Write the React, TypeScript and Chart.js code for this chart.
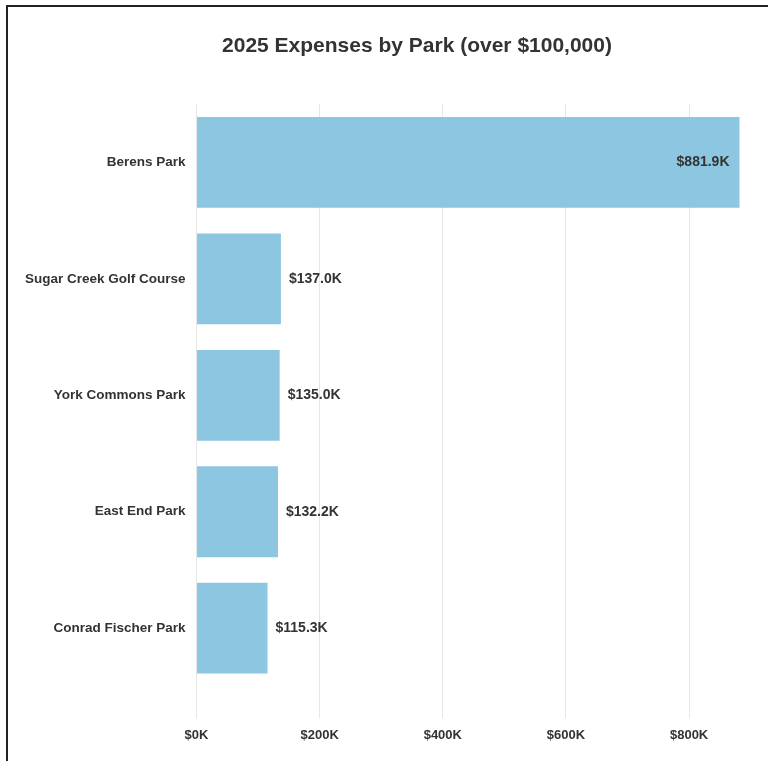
import React, { useEffect, useRef } from "react";
import { Chart, registerables } from "chart.js";

Chart.register(...registerables);

const parks = ["Berens Park", "Sugar Creek Golf Course", "York Commons Park", "East End Park", "Conrad Fischer Park"];
const expenses = [881900, 137000, 135000, 132200, 115300];
const titleText = "2025 Expenses by Park (over $100,000)";
const barColor = "#8dc6e1";
const FONT = "'Liberation Sans', Arial, Helvetica, sans-serif";

const valueLabels = {
  id: "valueLabels",
  afterDatasetsDraw(chart: any) {
    const ctx = chart.ctx;
    const meta = chart.getDatasetMeta(0);
    const data = chart.data.datasets[0].data as number[];
    const maxV = Math.max(...data);
    ctx.save();
    ctx.font = `bold 14px ${FONT}`;
    ctx.fillStyle = "#333";
    ctx.textBaseline = "middle";
    meta.data.forEach((el: any, i: number) => {
      const v = data[i];
      const txt = `$${(v / 1000).toFixed(1)}K`;
      if (v > maxV * 0.5) {
        ctx.textAlign = "right";
        ctx.fillText(txt, el.x - 10, el.y);
      } else {
        ctx.textAlign = "left";
        ctx.fillText(txt, el.x + 8, el.y);
      }
    });
    ctx.restore();
  },
};

export default function App() {
  const ref = useRef<HTMLCanvasElement>(null);
  useEffect(() => {
    if (!ref.current) return;
    const chart = new Chart(ref.current, {
      type: "bar",
      data: {
        labels: parks,
        datasets: [
          {
            data: expenses,
            backgroundColor: barColor,
            borderWidth: 0,
            barPercentage: 0.78,
            categoryPercentage: 1,
          },
        ],
      },
      options: {
        indexAxis: "y",
        animation: false,
        responsive: true,
        maintainAspectRatio: false,
        layout: { padding: { left: 8, right: 10, top: 0, bottom: 0 } },
        plugins: {
          legend: { display: false },
          tooltip: { enabled: false },
          title: {
            display: true,
            text: titleText,
            color: "#333",
            font: { family: FONT, size: 21, weight: "bold" },
            padding: { top: 27, bottom: 45 },
          },
        },
        scales: {
          x: {
            min: 0,
            ticks: {
              stepSize: 200000,
              color: "#333",
              font: { family: FONT, size: 13, weight: "bold" },
              padding: 9,
              callback: (v: any) => `$${Number(v) / 1000}K`,
            },
            grid: { color: "#e6e6e6", tickLength: 32, drawTicks: true },
            border: { display: false },
          },
          y: {
            afterFit: (scale: any) => {
              scale.width = scale.width + 14;
            },
            ticks: {
              color: "#333",
              font: { family: FONT, size: 13.5, weight: "bold" },
              padding: 11,
            },
            grid: { display: false, drawTicks: false },
            border: { display: false },
          },
        },
      },
      plugins: [valueLabels],
    });
    return () => chart.destroy();
  }, []);
  return (
    <div style={{ position: "fixed", left: 0, top: 0, width: 768, height: 761, overflow: "hidden", background: "#fff" }}>
      <div style={{ position: "absolute", left: -8, top: 7, width: 852, height: 745 }}>
        <canvas ref={ref} />
      </div>
      <div
        style={{
          position: "absolute",
          left: 6,
          top: 5,
          width: 900,
          height: 900,
          borderLeft: "2px solid #222",
          borderTop: "2px solid #222",
          pointerEvents: "none",
        }}
      />
    </div>
  );
}
